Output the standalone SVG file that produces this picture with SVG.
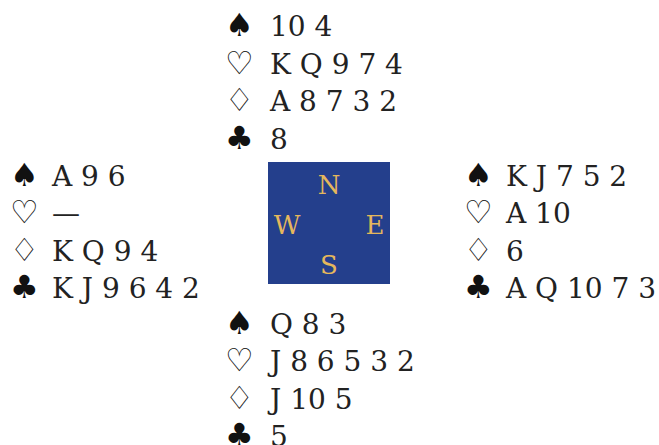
<svg xmlns="http://www.w3.org/2000/svg" width="659" height="445" viewBox="0 0 659 445">
<style>
.t{font-family:"DejaVu Serif","Liberation Serif",serif;font-size:28px;fill:#222}
.s{font-family:"DejaVu Sans","Noto Sans",sans-serif;font-size:32px;fill:#111}
.c{font-family:"DejaVu Serif","Liberation Serif",serif;font-size:26px;fill:#e5b75c;text-anchor:middle}
</style>
<rect width="659" height="445" fill="#fff"/>
<g id="north">
<text class="s" x="225" y="36">♠</text><text class="t" x="270" y="36">10 4</text>
<text class="s" x="225" y="74">♡</text><text class="t" x="270" y="74">K Q 9 7 4</text>
<text class="s" x="225" y="111">♢</text><text class="t" x="270" y="111">A 8 7 3 2</text>
<text class="s" x="225" y="149">♣</text><text class="t" x="270" y="149">8</text>
</g>
<g id="west">
<text class="s" x="10" y="186">♠</text><text class="t" x="52" y="186">A 9 6</text>
<text class="s" x="10" y="223">♡</text><text class="t" x="52" y="223">—</text>
<text class="s" x="10" y="261">♢</text><text class="t" x="52" y="261">K Q 9 4</text>
<text class="s" x="10" y="298">♣</text><text class="t" x="52" y="298">K J 9 6 4 2</text>
</g>
<g id="east">
<text class="s" x="464" y="186">♠</text><text class="t" x="506" y="186">K J 7 5 2</text>
<text class="s" x="464" y="223">♡</text><text class="t" x="506" y="223">A 10</text>
<text class="s" x="464" y="261">♢</text><text class="t" x="506" y="261">6</text>
<text class="s" x="464" y="298">♣</text><text class="t" x="506" y="298">A Q 10 7 3</text>
</g>
<g id="south">
<text class="s" x="225" y="334">♠</text><text class="t" x="270" y="334">Q 8 3</text>
<text class="s" x="225" y="371">♡</text><text class="t" x="270" y="371">J 8 6 5 3 2</text>
<text class="s" x="225" y="409">♢</text><text class="t" x="270" y="409">J 10 5</text>
<text class="s" x="225" y="446">♣</text><text class="t" x="270" y="446">5</text>
</g>
<g id="compass">
<rect x="268" y="162" width="122" height="122" fill="#243f8c"/>
<text class="c" x="329" y="194">N</text>
<text class="c" x="287" y="234">W</text>
<text class="c" x="375" y="234">E</text>
<text class="c" x="329" y="274">S</text>
</g>
</svg>
